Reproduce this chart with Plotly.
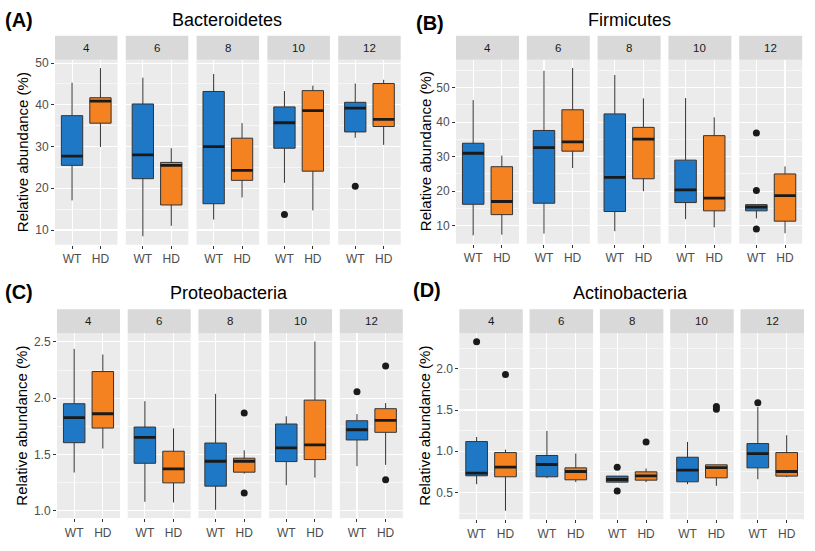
import plotly.graph_objects as go

W, H = 815, 551
weeks = ["4", "6", "8", "10", "12"]
groups = ["WT", "HD"]

# per week: (lower whisker, Q1, median, Q3, upper whisker)
bact_wt = [(17.1, 25.5, 27.7, 37.4, 45.3), (8.5, 22.3, 28.0, 40.2, 46.5), (12.5, 16.3, 30.0, 43.2, 47.4),
           (21.3, 29.6, 35.7, 39.5, 43.3), (32.1, 33.5, 39.2, 40.6, 45.1)]
bact_hd = [(29.9, 35.6, 40.9, 41.7, 48.8), (11.0, 16.0, 25.5, 26.2, 29.6), (17.8, 21.9, 24.3, 32.0, 35.6),
           (14.7, 24.1, 38.6, 43.4, 44.6), (30.4, 34.8, 36.5, 45.1, 46.0)]
bact_wt_out = [[], [], [], [13.7], [20.5]]
bact_hd_out = [[], [], [], [], []]

firm_wt = [(7.2, 16.2, 31.0, 33.9, 46.4), (7.7, 16.5, 32.6, 37.6, 54.9), (8.4, 14.1, 24.0, 42.4, 53.7),
           (11.9, 16.7, 20.4, 29.0, 47.0), (12.1, 14.3, 15.4, 16.1, 16.1)]
firm_hd = [(7.4, 13.2, 17.0, 27.1, 30.3), (26.7, 31.6, 34.3, 43.6, 55.7), (20.0, 23.6, 35.1, 38.5, 46.9),
           (9.5, 14.3, 18.0, 36.1, 41.4), (7.8, 11.3, 18.7, 25.0, 27.2)]
firm_wt_out = [[], [], [], [], [36.9, 20.2, 9.0]]
firm_hd_out = [[], [], [], [], []]

prot_wt = [(1.34, 1.605, 1.827, 1.951, 2.438), (1.080, 1.422, 1.653, 1.744, 1.974), (1.009, 1.219, 1.440, 1.602, 2.039),
           (1.227, 1.437, 1.558, 1.771, 1.839), (1.396, 1.629, 1.720, 1.800, 1.859)]
prot_hd = [(1.553, 1.735, 1.862, 2.237, 2.388), (1.074, 1.248, 1.372, 1.529, 1.732), (1.330, 1.343, 1.440, 1.467, 1.537),
           (1.295, 1.455, 1.585, 1.983, 2.503), (1.408, 1.697, 1.803, 1.907, 1.957)]
prot_wt_out = [[], [], [], [], [2.057]]
prot_hd_out = [[], [], [1.868, 1.157], [], [2.287, 1.275]]

act_wt = [(0.600, 0.702, 0.734, 1.117, 1.173), (0.673, 0.690, 0.839, 0.948, 1.246), (0.625, 0.625, 0.657, 0.698, 0.698),
          (0.600, 0.629, 0.770, 0.927, 1.113), (0.660, 0.798, 0.972, 1.093, 1.536)]
act_hd = [(0.278, 0.690, 0.806, 0.984, 1.020), (0.625, 0.653, 0.754, 0.798, 0.972), (0.625, 0.649, 0.700, 0.750, 0.790),
          (0.580, 0.677, 0.800, 0.835, 0.835), (0.685, 0.698, 0.754, 0.984, 1.194)]
act_wt_out = [[2.33], [], [0.806, 0.516], [], [1.589]]
act_hd_out = [[1.93], [], [1.113], [1.544, 1.508], []]

titles = ["Bacteroidetes", "Firmicutes", "Proteobacteria", "Actinobacteria"]
letters = ["(A)", "(B)", "(C)", "(D)"]

COL = {"WT": "#1f78c6", "HD": "#f58220"}
FONT = "Liberation Sans, Arial, Helvetica, sans-serif"

panels = [
    dict(wt=bact_wt, hd=bact_hd, wo=bact_wt_out, ho=bact_hd_out, x0=55.0, step=70.8, fw=62.5,
         st=33, yt=57, yb=243, dtick=10, mdt=5, fmt="d", ylab=(22, 150), title=(227, 17), letter=(3, 17)),
    dict(wt=firm_wt, hd=firm_hd, wo=firm_wt_out, ho=firm_hd_out, x0=456.0, step=70.8, fw=63.0,
         st=33, yt=57, yb=242, dtick=10, mdt=5, fmt="d", ylab=(425, 149), title=(629.5, 17), letter=(414, 20)),
    dict(wt=prot_wt, hd=prot_hd, wo=prot_wt_out, ho=prot_hd_out, x0=57.0, step=70.7, fw=63.0,
         st=308, yt=332, yb=518, dtick=0.5, mdt=0.25, fmt=".1f", ylab=(22, 425), title=(229, 292), letter=(3, 291)),
    dict(wt=act_wt, hd=act_hd, wo=act_wt_out, ho=act_hd_out, x0=459.3, step=70.3, fw=63.5,
         st=308, yt=332, yb=519, dtick=0.5, mdt=0.25, fmt=".1f", ylab=(425, 425), title=(630.5, 292), letter=(411, 289)),
]

fig = go.Figure()
layout_axes = {}
annotations = []
shapes = []
idx = 0
BW = 0.75
for pi, p in enumerate(panels):
    allv = []
    for arr in (p["wt"], p["hd"]):
        for s in arr:
            allv += list(s)
    for arr in (p["wo"], p["ho"]):
        for s in arr:
            allv += list(s)
    lo, hi = min(allv), max(allv)
    pad = 0.05 * (hi - lo)
    yr = [lo - pad, hi + pad]
    for k, wk in enumerate(weeks):
        idx += 1
        xa = "x" if idx == 1 else f"x{idx}"
        ya = "y" if idx == 1 else f"y{idx}"
        xname = "xaxis" if idx == 1 else f"xaxis{idx}"
        yname = "yaxis" if idx == 1 else f"yaxis{idx}"
        fx0 = p["x0"] + k * p["step"]
        fx1 = fx0 + p["fw"]
        layout_axes[xname] = dict(
            domain=[fx0 / W, fx1 / W], anchor=ya, range=[-0.6, 1.6],
            tickmode="array", tickvals=[0, 1], ticktext=groups,
            showgrid=True, gridcolor="white", gridwidth=1.1, zeroline=False,
            ticks="outside", ticklen=3, tickwidth=1, tickcolor="#333333",
            tickfont=dict(size=12, color="#4d4d4d", family=FONT), showline=False, fixedrange=True)
        first = (k == 0)
        layout_axes[yname] = dict(
            domain=[1 - p["yb"] / H, 1 - p["yt"] / H], anchor=xa, range=yr,
            tick0=0, dtick=p["dtick"], tickformat=p["fmt"],
            showticklabels=first, ticks="outside" if first else "", ticklen=3, tickwidth=1,
            tickcolor="#333333", tickfont=dict(size=12, color="#4d4d4d", family=FONT),
            showgrid=True, gridcolor="white", gridwidth=1.1, zeroline=False, showline=False,
            minor=dict(tick0=0, dtick=p["mdt"], showgrid=True, gridcolor="white", gridwidth=0.55),
            fixedrange=True)
        for gi, g in enumerate(groups):
            stats = p["wt"] if g == "WT" else p["hd"]
            outs = p["wo"] if g == "WT" else p["ho"]
            low, q1, med, q3, high = stats[k]
            fig.add_trace(go.Box(
                x=[gi], q1=[q1], median=[med], q3=[q3], lowerfence=[low], upperfence=[high],
                width=BW, fillcolor=COL[g], line=dict(color="#333333", width=1),
                whiskerwidth=0, boxpoints=False, xaxis=xa, yaxis=ya, showlegend=False,
                hoverinfo="skip"))
            fig.add_trace(go.Scatter(
                x=[gi - BW / 2, gi + BW / 2], y=[med, med], mode="lines",
                line=dict(color="#1a1a1a", width=2.8), xaxis=xa, yaxis=ya,
                showlegend=False, hoverinfo="skip"))
            if outs[k]:
                fig.add_trace(go.Scatter(
                    x=[gi] * len(outs[k]), y=outs[k], mode="markers",
                    marker=dict(color="#1a1a1a", size=7), xaxis=xa, yaxis=ya,
                    showlegend=False, hoverinfo="skip"))
        shapes.append(dict(type="rect", xref="paper", yref="paper",
                           x0=fx0 / W, x1=fx1 / W, y0=1 - p["yt"] / H, y1=1 - p["st"] / H,
                           fillcolor="#d9d9d9", line=dict(width=0), layer="below"))
        annotations.append(dict(text=wk, xref="paper", yref="paper",
                                x=(fx0 + fx1) / 2 / W, y=1 - (p["st"] + p["yt"]) / 2 / H,
                                xanchor="center", yanchor="middle", showarrow=False,
                                font=dict(size=11.5, color="#1a1a1a", family=FONT)))
    annotations.append(dict(text=titles[pi], xref="paper", yref="paper",
                            x=p["title"][0] / W, y=1 - p["title"][1] / H,
                            xanchor="center", yanchor="middle", showarrow=False,
                            font=dict(size=18, color="black", family=FONT)))
    annotations.append(dict(text="<b>" + letters[pi] + "</b>", xref="paper", yref="paper",
                            x=p["letter"][0] / W, y=1 - p["letter"][1] / H,
                            xanchor="left", yanchor="middle", showarrow=False,
                            font=dict(size=20, color="black", family=FONT)))
    annotations.append(dict(text="Relative abundance (%)", xref="paper", yref="paper",
                            x=p["ylab"][0] / W, y=1 - p["ylab"][1] / H, textangle=-90,
                            xanchor="center", yanchor="middle", showarrow=False,
                            font=dict(size=15, color="black", family=FONT)))

fig.update_layout(
    width=W, height=H, autosize=False,
    margin=dict(l=0, r=0, t=0, b=0),
    paper_bgcolor="white", plot_bgcolor="#ebebeb",
    font=dict(family=FONT),
    showlegend=False, boxmode="overlay",
    annotations=annotations, shapes=shapes,
    **layout_axes)

fig.write_html("out.html", config={"displayModeBar": False, "staticPlot": True},
               post_script="document.body.style.margin='0';document.body.style.overflow='hidden';")
